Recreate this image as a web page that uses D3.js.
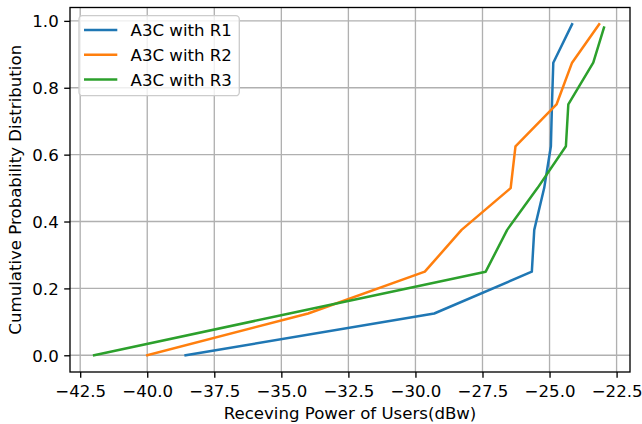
<!DOCTYPE html>
<html>
<head>
<meta charset="utf-8">
<script src="https://cdn.jsdelivr.net/npm/d3@7"></script>
<style>
  html, body { margin: 0; padding: 0; background: #fff; }
  svg { display: block; font-family: "DejaVu Sans", sans-serif; }
</style>
</head>
<body>
<svg id="chart" width="642" height="424"></svg>
<script>
// ---- Data ----
const seriesNames = ["A3C with R1", "A3C with R2", "A3C with R3"];
const seriesColors = ["#1f77b4", "#ff7f0e", "#2ca02c"];

const r1X = [-38.57, -29.3, -25.66, -25.57, -25.2, -24.95, -24.91, -24.86, -24.16];
const r1Y = [0, 0.125, 0.25, 0.375, 0.5, 0.625, 0.75, 0.875, 0.99];

const r2X = [-40.0, -34.0, -29.65, -28.28, -26.45, -26.27, -24.74, -24.16, -23.15];
const r2Y = [0, 0.125, 0.25, 0.375, 0.5, 0.625, 0.75, 0.875, 0.99];

const r3X = [-41.98, -34.7, -27.38, -26.58, -25.45, -24.39, -24.3, -23.37, -22.97];
const r3Y = [0, 0.125, 0.25, 0.375, 0.5, 0.625, 0.75, 0.875, 0.98];

const xTicks = [-42.5, -40.0, -37.5, -35.0, -32.5, -30.0, -27.5, -25.0, -22.5];
const yTicks = [0.0, 0.2, 0.4, 0.6, 0.8, 1.0];

const xLabel = "Receving Power of Users(dBw)";
const yLabel = "Cumulative Probability Distribution";

// ---- Layout ----
const pLeft = 70, pRight = 630, pTop = 7.5, pBottom = 372;
const fs = 16.6;

const svg = d3.select("#chart");
const x = d3.scaleLinear().domain([-42.88, -22.0]).range([pLeft, pRight]);
const y = d3.scaleLinear().domain([-0.05, 1.04]).range([pBottom, pTop]);

const fmtTick = v => v.toFixed(1).replace("-", "\u2212");

// grid
const grid = svg.append("g");
grid.selectAll("line.gx").data(xTicks).enter().append("line")
  .attr("x1", d => x(d)).attr("x2", d => x(d))
  .attr("y1", pTop).attr("y2", pBottom)
  .attr("stroke", "#b0b0b0").attr("stroke-width", 1.33);
grid.selectAll("line.gy").data(yTicks).enter().append("line")
  .attr("y1", d => y(d)).attr("y2", d => y(d))
  .attr("x1", pLeft).attr("x2", pRight)
  .attr("stroke", "#b0b0b0").attr("stroke-width", 1.33);

// axes via d3 axis
const xAxis = d3.axisBottom(x).tickValues(xTicks).tickFormat(fmtTick)
  .tickSize(5.8).tickPadding(5.8);
const gx = svg.append("g").attr("transform", `translate(0,${pBottom})`).call(xAxis);
gx.select(".domain").remove();
gx.selectAll(".tick line").attr("stroke", "#000").attr("stroke-width", 1.33);
gx.selectAll(".tick text").attr("font-size", fs).attr("fill", "#000")
  .attr("font-family", "DejaVu Sans").attr("dy", null).attr("y", 25);

const yAxis = d3.axisLeft(y).tickValues(yTicks).tickFormat(fmtTick)
  .tickSize(5.8).tickPadding(5.8);
const gy = svg.append("g").attr("transform", `translate(${pLeft},0)`).call(yAxis);
gy.select(".domain").remove();
gy.selectAll(".tick line").attr("stroke", "#000").attr("stroke-width", 1.33);
gy.selectAll(".tick text").attr("font-size", fs).attr("fill", "#000")
  .attr("font-family", "DejaVu Sans").attr("dy", "0.36em").attr("x", -11.3);

// lines
const line = d3.line().x(d => x(d[0])).y(d => y(d[1]));
const allSeries = [
  d3.zip(r1X, r1Y),
  d3.zip(r2X, r2Y),
  d3.zip(r3X, r3Y)
];
svg.append("g").selectAll("path").data(allSeries).enter().append("path")
  .attr("d", line)
  .attr("fill", "none")
  .attr("stroke", (d, i) => seriesColors[i])
  .attr("stroke-width", 2.5)
  .attr("stroke-linejoin", "round")
  .attr("stroke-linecap", "square");

// frame
svg.append("rect")
  .attr("x", pLeft).attr("y", pTop)
  .attr("width", pRight - pLeft).attr("height", pBottom - pTop)
  .attr("fill", "none").attr("stroke", "#000").attr("stroke-width", 1.33);

// axis labels
svg.append("text")
  .attr("x", (pLeft + pRight) / 2).attr("y", 419)
  .attr("text-anchor", "middle").attr("font-size", fs).attr("fill", "#000")
  .text(xLabel);
svg.append("text")
  .attr("transform", `translate(21,${(pTop + pBottom) / 2}) rotate(-90)`)
  .attr("text-anchor", "middle").attr("font-size", fs).attr("fill", "#000")
  .text(yLabel);

// legend
const lg = svg.append("g");
lg.append("rect")
  .attr("x", 79).attr("y", 15.7).attr("width", 160.3).attr("height", 80)
  .attr("rx", 3.5).attr("ry", 3.5)
  .attr("fill", "#fff").attr("fill-opacity", 0.8)
  .attr("stroke", "#cccccc").attr("stroke-width", 1.33);
const rowY = [30, 54.8, 79.6];
seriesNames.forEach((name, i) => {
  lg.append("line")
    .attr("x1", 84).attr("x2", 117.3)
    .attr("y1", rowY[i]).attr("y2", rowY[i])
    .attr("stroke", seriesColors[i]).attr("stroke-width", 2.5);
  lg.append("text")
    .attr("x", 130.6).attr("y", rowY[i]).attr("dy", "0.36em")
    .attr("font-size", fs).attr("fill", "#000")
    .text(name);
});
</script>
</body>
</html>
